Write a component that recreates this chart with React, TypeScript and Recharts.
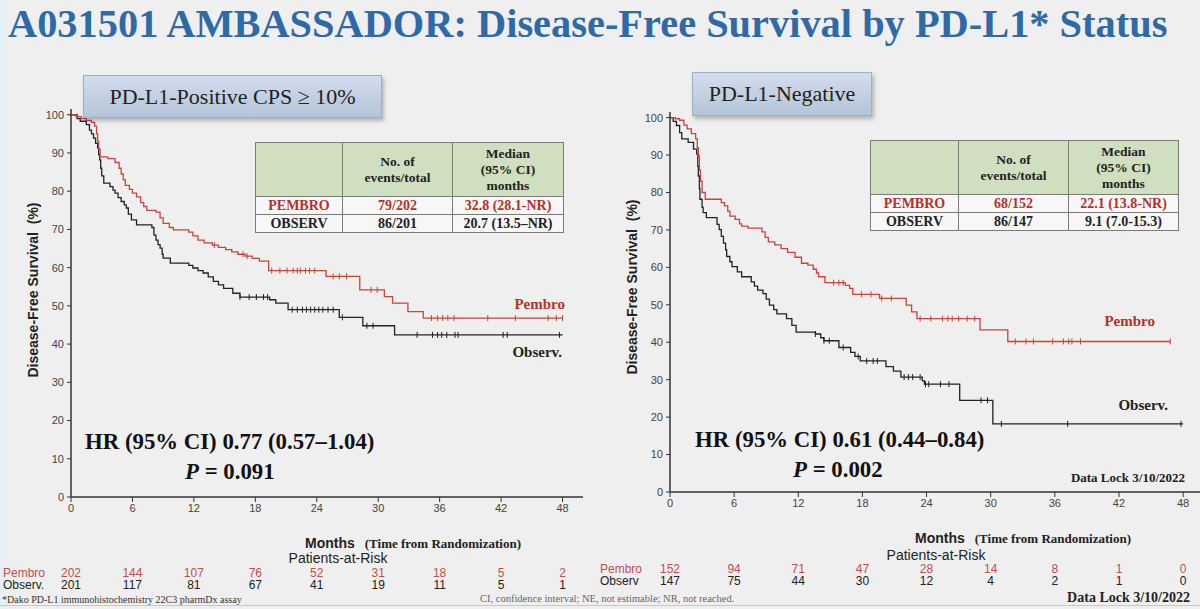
import React from "react";
import { ComposedChart, Line, Scatter, XAxis, YAxis } from "recharts";

// ---- survival step data (months, % disease-free) ----
const posPembroT = [0, 0.5, 1.0, 1.5, 2.0, 2.3, 2.5, 2.6, 2.7, 2.85, 3.6, 4.3, 4.7, 4.9, 5.1, 5.3, 5.7, 6.0, 6.4, 6.8, 7.1, 7.4, 8.3, 8.7, 9.0, 9.6, 10.0, 11.5, 11.9, 12.4, 13.0, 13.8, 14.4, 15.1, 15.7, 16.3, 17.0, 17.7, 18.4, 19.3, 24.9, 28.2, 30.6, 31.4, 32.9, 34.4, 48];
const posPembroS = [100, 99.5, 99, 98.5, 98, 97, 95, 93, 91, 89, 88.5, 87.5, 86, 84.5, 83, 81.5, 80.5, 79.5, 78.5, 77, 76, 75, 74.5, 73, 71.6, 70.5, 69.9, 69.3, 68.3, 67.2, 66.5, 65.9, 65.3, 64.7, 64.1, 63.5, 63, 62.4, 61.7, 59.2, 57.7, 54.2, 52.4, 50.7, 48.5, 46.8, 46.8];
const posObservT = [0, 0.6, 0.9, 1.5, 1.8, 2.0, 2.2, 2.4, 2.6, 2.7, 2.8, 2.9, 3.0, 3.2, 3.8, 4.1, 4.3, 4.6, 4.9, 5.2, 5.4, 5.6, 5.9, 6.4, 7.9, 8.1, 8.3, 8.5, 8.7, 8.9, 9.0, 9.7, 11.5, 11.9, 12.4, 12.9, 13.4, 13.9, 14.4, 14.9, 15.8, 16.5, 19.4, 20.0, 21.2, 26.2, 28.5, 31.6, 48];
const posObservS = [100, 99, 98.3, 97.4, 96, 95, 93.9, 92.5, 91.3, 89.5, 88.2, 86, 84, 82.1, 81.2, 80.3, 79.5, 78.3, 77.3, 76.4, 75.6, 74, 72.5, 71.2, 70.5, 68.5, 67.2, 66, 65.1, 63.5, 62.5, 61.2, 60.6, 59.9, 59.2, 58.6, 57.6, 56.4, 55.5, 54.6, 53.3, 52.3, 51.6, 50.7, 49, 47, 44.8, 42.4, 42.4];

const negPembroT = [0, 0.5, 0.9, 1.3, 1.6, 2.0, 2.4, 2.55, 2.65, 2.75, 2.85, 3.0, 3.3, 4.8, 5.1, 5.4, 5.6, 6.1, 6.5, 6.7, 7.3, 8.6, 8.9, 9.2, 9.8, 10.4, 11.0, 11.7, 12.3, 12.9, 13.4, 13.7, 13.9, 14.5, 16.4, 16.8, 17.1, 19.6, 22.1, 22.6, 23.1, 29.0, 31.6, 46.8];
const negPembroS = [100, 99.7, 99.3, 98, 97, 95.7, 94.3, 92, 89.8, 86, 83, 80, 78.2, 77.3, 76.4, 75, 73.7, 72.8, 71.6, 71, 70.5, 69.5, 68, 66.8, 66, 65, 64, 62.7, 61.1, 60.6, 59.5, 58.5, 57.5, 55.9, 55.2, 54.4, 52.8, 51.7, 49.9, 48.1, 46.3, 43.3, 40.2, 40.2];
const negObservT = [0, 0.3, 0.6, 0.9, 1.1, 1.7, 2.2, 2.5, 2.6, 2.65, 2.75, 2.8, 3.0, 3.1, 3.4, 4.4, 4.6, 4.8, 5.0, 5.2, 5.3, 5.6, 5.8, 6.3, 6.7, 7.6, 7.9, 8.2, 8.7, 9.0, 9.3, 9.7, 10.0, 10.9, 11.4, 11.8, 13.6, 14.1, 14.4, 15.8, 16.9, 17.3, 17.8, 20.2, 20.9, 21.6, 23.6, 23.8, 27.1, 30.2, 48];
const negObservS = [100, 99, 97.9, 96, 94.3, 93.4, 91.6, 90.3, 87, 84.4, 81, 78.2, 76, 74.6, 73.3, 71.5, 70.1, 68.3, 66.5, 64.7, 62.9, 61.5, 60.2, 58.8, 57.5, 56.1, 55, 53.9, 53, 51.5, 49.9, 48.7, 47.6, 46.3, 44.5, 42.7, 42.2, 41.2, 40.4, 38.6, 37.3, 36.2, 35, 33.5, 32.3, 30.7, 29.7, 28.8, 24.5, 18.2, 18.2];

// censoring times (tick marks on the curves)
const posPembroCensor = [14.0, 16.8, 17.2, 19.6, 20.4, 21.1, 21.7, 22.1, 22.4, 22.9, 23.3, 23.8, 25.6, 26.2, 26.9, 29.3, 29.9, 35.2, 35.8, 36.3, 36.8, 37.4, 40.7, 43.4, 46.6, 47.4, 48];
const posObservCensor = [16.5, 17.4, 18.1, 18.8, 19.2, 21.6, 22.1, 22.6, 23.0, 23.4, 23.8, 24.2, 24.6, 25.1, 25.6, 26.5, 28.9, 29.5, 33.8, 35.3, 35.8, 36.2, 36.7, 37.5, 37.8, 42.2, 42.6, 47.7];
const negPembroCensor = [15.3, 15.8, 16.2, 17.9, 18.8, 19.8, 20.7, 23.4, 24.4, 25.5, 26.0, 26.4, 27.0, 27.8, 28.5, 32.3, 33.3, 34.0, 35.8, 36.8, 37.3, 37.6, 38.4, 46.8];
const negObservCensor = [13.6, 14.4, 14.9, 16.2, 17.6, 18.4, 19.0, 19.4, 21.9, 22.3, 22.7, 23.4, 23.9, 24.2, 25.3, 26.1, 29.1, 29.7, 31.0, 37.2, 47.8];

// patients at risk at each x tick
const monthTicks = [0, 6, 12, 18, 24, 30, 36, 42, 48];
const survTicks = [0, 10, 20, 30, 40, 50, 60, 70, 80, 90, 100];
const posPembroRisk = [202, 144, 107, 76, 52, 31, 18, 5, 2];
const posObservRisk = [201, 117, 81, 67, 41, 19, 11, 5, 1];
const negPembroRisk = [152, 94, 71, 47, 28, 14, 8, 1, 0];
const negObservRisk = [147, 75, 44, 30, 12, 4, 2, 1, 0];

const RED = "#c8443a";
const RED_TEXT = "#b5302a";
const BLACK = "#222";
const SERIF = "'Liberation Serif', 'Times New Roman', serif";
const SANS = "'Liberation Sans', Arial, sans-serif";

const toPoints = (ts: number[], ss: number[]) => ts.map((t, i) => ({ t, s: ss[i] }));
const stepAt = (ts: number[], ss: number[], t: number) => {
  let v = ss[0];
  for (let i = 0; i < ts.length; i++) if (ts[i] <= t) v = ss[i];
  return v;
};
const censorPoints = (ts: number[], ss: number[], cs: number[]) =>
  cs.map((t) => ({ t, s: stepAt(ts, ss, t) }));

const censorTick = (color: string) => (p: any) => (
  <line x1={p.cx} x2={p.cx} y1={p.cy - 3} y2={p.cy + 3} stroke={color} strokeWidth={1} />
);

type KMProps = {
  width: number;
  height: number;
  margin: { top: number; right: number; bottom: number; left: number };
  yWidth: number;
  pembro: { t: number; s: number }[];
  observ: { t: number; s: number }[];
  pembroCensor: { t: number; s: number }[];
  observCensor: { t: number; s: number }[];
};

function KMChart(p: KMProps) {
  const tick = { fontSize: 11, fill: "#444", fontFamily: SANS };
  return (
    <ComposedChart width={p.width} height={p.height} margin={p.margin}>
      <XAxis
        type="number"
        dataKey="t"
        domain={[0, 50]}
        ticks={monthTicks}
        allowDataOverflow
        tick={tick}
        tickSize={5}
        tickMargin={2}
        height={25}
        axisLine={{ stroke: "#333", strokeWidth: 1.5 }}
        tickLine={{ stroke: "#333" }}
      />
      <YAxis
        type="number"
        dataKey="s"
        domain={[0, 101.5]}
        ticks={survTicks}
        allowDataOverflow
        width={p.yWidth}
        tick={tick}
        tickSize={4}
        tickMargin={3}
        axisLine={{ stroke: "#333", strokeWidth: 1.5 }}
        tickLine={{ stroke: "#333" }}
      />
      <Line data={p.observ} dataKey="s" type="stepAfter" stroke={BLACK} strokeWidth={1.3} dot={false} isAnimationActive={false} />
      <Line data={p.pembro} dataKey="s" type="stepAfter" stroke={RED} strokeWidth={1.3} dot={false} isAnimationActive={false} />
      <Scatter data={p.observCensor} dataKey="s" shape={censorTick(BLACK)} isAnimationActive={false} />
      <Scatter data={p.pembroCensor} dataKey="s" shape={censorTick(RED)} isAnimationActive={false} />
    </ComposedChart>
  );
}

const abs = (left: number, top: number, extra: React.CSSProperties = {}): React.CSSProperties => ({
  position: "absolute",
  left,
  top,
  whiteSpace: "nowrap",
  ...extra,
});

function PanelTitle({ left, top, width, height, text }: { left: number; top: number; width: number; height: number; text: string }) {
  return (
    <div
      style={abs(left, top, {
        width,
        height,
        background: "linear-gradient(180deg, #d3dded 0%, #b4c4d8 100%)",
        border: "1px solid #9eb0c6",
        boxShadow: "2px 3px 4px rgba(0,0,0,0.25)",
        fontFamily: SERIF,
        fontSize: 22,
        color: "#222",
        display: "flex",
        alignItems: "center",
        justifyContent: "center",
      })}
    >
      {text}
    </div>
  );
}

function StatTable({ left, top, cols, rows }: { left: number; top: number; cols: number[]; rows: string[][] }) {
  const cell: React.CSSProperties = {
    border: "1.5px solid #7a7a7a",
    padding: 0,
    textAlign: "center",
    fontFamily: SERIF,
    fontWeight: "bold",
  };
  return (
    <table style={abs(left, top, { borderCollapse: "collapse", tableLayout: "fixed" })}>
      <colgroup>
        {cols.map((w, i) => (
          <col key={i} style={{ width: w }} />
        ))}
      </colgroup>
      <tbody>
        <tr style={{ height: 54, background: "#cfdfbf" }}>
          <td style={cell}></td>
          <td style={{ ...cell, fontSize: 13.5, lineHeight: "16px", color: "#222" }}>
            No. of
            <br />
            events/total
          </td>
          <td style={{ ...cell, fontSize: 13.5, lineHeight: "16px", color: "#222" }}>
            Median
            <br />
            (95% CI)
            <br />
            months
          </td>
        </tr>
        {rows.map((r, i) => (
          <tr key={i} style={{ height: 18, background: "#f7f7f7" }}>
            {r.map((v, j) => (
              <td key={j} style={{ ...cell, fontSize: 14, lineHeight: "16px", color: i === 0 ? RED_TEXT : "#222" }}>
                {v}
              </td>
            ))}
          </tr>
        ))}
      </tbody>
    </table>
  );
}

function RiskRow({ x0, pxPerMonth, top, label, values, color }: { x0: number; pxPerMonth: number; top: number; label: [number, string]; values: number[]; color: string }) {
  const font: React.CSSProperties = { fontFamily: SANS, fontSize: 12, color, lineHeight: "12px" };
  return (
    <>
      <div style={abs(label[0], top, font)}>{label[1]}</div>
      {values.map((v, i) => (
        <div key={i} style={abs(x0 + monthTicks[i] * pxPerMonth, top, { ...font, transform: "translateX(-50%)" })}>
          {v}
        </div>
      ))}
    </>
  );
}

// plot geometry shared by the charts and the at-risk rows
const L_X0 = 71;
const L_PX = 512 / 50;
const R_X0 = 670;
const R_PX = 534.5 / 50;

export default function App() {
  const bold: React.CSSProperties = { fontFamily: SERIF, fontWeight: "bold" };
  const hr: React.CSSProperties = { ...bold, fontSize: 22.8, color: "#111", transform: "translateY(-50%)" };
  return (
    <div style={{ position: "absolute", left: 0, top: 0, width: 1200, height: 609, background: "#efefef", overflow: "hidden" }}>
      <div style={{ position: "absolute", left: 0, top: 0, width: 6, height: 609, background: "#e3f1f6" }} />
      <div style={abs(8, 1, { ...bold, fontSize: 40.4, lineHeight: "46px", color: "#2e6aa8" })}>
        A031501 AMBASSADOR: Disease-Free Survival by PD-L1* Status
      </div>

      {/* left panel: PD-L1 positive */}
      <div style={abs(0, 0)}>
        <KMChart
          width={600}
          height={530}
          margin={{ top: 109, right: 17, bottom: 8, left: 0 }}
          yWidth={71}
          pembro={toPoints(posPembroT, posPembroS)}
          observ={toPoints(posObservT, posObservS)}
          pembroCensor={censorPoints(posPembroT, posPembroS, posPembroCensor)}
          observCensor={censorPoints(posObservT, posObservS, posObservCensor)}
        />
      </div>
      <PanelTitle left={83} top={75} width={297} height={41} text="PD-L1-Positive CPS ≥ 10%" />
      <StatTable left={255} top={142} cols={[87, 110, 111]} rows={[["PEMBRO", "79/202", "32.8 (28.1-NR)"], ["OBSERV", "86/201", "20.7 (13.5–NR)"]]} />

      {/* right panel: PD-L1 negative */}
      <div style={abs(600, 0)}>
        <KMChart
          width={610}
          height={530}
          margin={{ top: 112, right: 5.5, bottom: 13, left: 0 }}
          yWidth={70}
          pembro={toPoints(negPembroT, negPembroS)}
          observ={toPoints(negObservT, negObservS)}
          pembroCensor={censorPoints(negPembroT, negPembroS, negPembroCensor)}
          observCensor={censorPoints(negObservT, negObservS, negObservCensor)}
        />
      </div>
      <PanelTitle left={692} top={72} width={178} height={42} text="PD-L1-Negative" />
      <StatTable left={870} top={140} cols={[88, 110, 110]} rows={[["PEMBRO", "68/152", "22.1 (13.8-NR)"], ["OBSERV", "86/147", "9.1 (7.0-15.3)"]]} />

      {/* y-axis titles */}
      {[[33, 290], [632, 287]].map(([x, y], i) => (
        <div key={i} style={abs(x, y, { fontFamily: SANS, fontWeight: "bold", fontSize: 14, color: "#222", transform: "translate(-50%, -50%) rotate(-90deg)" })}>
          Disease-Free Survival&nbsp;&nbsp;(%)
        </div>
      ))}

      {/* curve labels */}
      <div style={abs(565, 304, { ...bold, fontSize: 15, color: RED_TEXT, transform: "translate(-100%, -50%)" })}>Pembro</div>
      <div style={abs(562, 352, { ...bold, fontSize: 15, color: "#222", transform: "translate(-100%, -50%)" })}>Observ.</div>
      <div style={abs(1155, 321, { ...bold, fontSize: 15, color: RED_TEXT, transform: "translate(-100%, -50%)" })}>Pembro</div>
      <div style={abs(1168, 405, { ...bold, fontSize: 15, color: "#222", transform: "translate(-100%, -50%)" })}>Observ.</div>

      {/* hazard ratios */}
      <div style={abs(85, 442, hr)}>HR (95% CI) 0.77 (0.57–1.04)</div>
      <div style={abs(185, 472, hr)}>
        <i>P</i> = 0.091
      </div>
      <div style={abs(695, 440, hr)}>HR (95% CI) 0.61 (0.44–0.84)</div>
      <div style={abs(793, 470, hr)}>
        <i>P</i> = 0.002
      </div>
      <div style={abs(1185, 478, { ...bold, fontSize: 13, color: "#222", transform: "translate(-100%, -50%)" })}>Data Lock 3/10/2022</div>

      {/* x-axis titles */}
      <div style={abs(305, 543, { transform: "translateY(-50%)", color: "#222" })}>
        <span style={{ fontFamily: SANS, fontWeight: "bold", fontSize: 14 }}>Months</span>
        <span style={{ ...bold, fontSize: 13, marginLeft: 10 }}>(Time from Randomization)</span>
      </div>
      <div style={abs(915, 538, { transform: "translateY(-50%)", color: "#222" })}>
        <span style={{ fontFamily: SANS, fontWeight: "bold", fontSize: 14 }}>Months</span>
        <span style={{ ...bold, fontSize: 13, marginLeft: 10 }}>(Time from Randomization)</span>
      </div>

      {/* patients at risk */}
      <div style={abs(338, 558, { fontFamily: SANS, fontSize: 14, color: "#222", transform: "translate(-50%, -50%)" })}>Patients-at-Risk</div>
      <div style={abs(936, 555, { fontFamily: SANS, fontSize: 14, color: "#222", transform: "translate(-50%, -50%)" })}>Patients-at-Risk</div>
      <RiskRow x0={L_X0} pxPerMonth={L_PX} top={567} label={[3, "Pembro"]} values={posPembroRisk} color="#c0504d" />
      <RiskRow x0={L_X0} pxPerMonth={L_PX} top={579} label={[3, "Observ."]} values={posObservRisk} color="#222" />
      <RiskRow x0={R_X0} pxPerMonth={R_PX} top={563} label={[600, "Pembro"]} values={negPembroRisk} color="#c0504d" />
      <RiskRow x0={R_X0} pxPerMonth={R_PX} top={575} label={[600, "Observ"]} values={negObservRisk} color="#222" />

      {/* footnotes */}
      <div style={{ position: "absolute", left: 0, top: 605, width: 1200, height: 1, background: "#c8c8c8" }} />
      <div style={abs(2, 599, { fontFamily: SERIF, fontSize: 10, lineHeight: "11px", color: "#333", transform: "translateY(-50%)" })}>
        *Dako PD-L1 immunohistochemistry 22C3 pharmDx assay
      </div>
      <div style={abs(480, 598, { fontFamily: SERIF, fontSize: 10.5, lineHeight: "11px", color: "#666", transform: "translateY(-50%)" })}>
        CI, confidence interval; NE, not estimable; NR, not reached.
      </div>
      <div style={abs(1190, 597, { ...bold, fontSize: 14, lineHeight: "15px", color: "#222", transform: "translate(-100%, -50%)" })}>Data Lock 3/10/2022</div>
    </div>
  );
}
